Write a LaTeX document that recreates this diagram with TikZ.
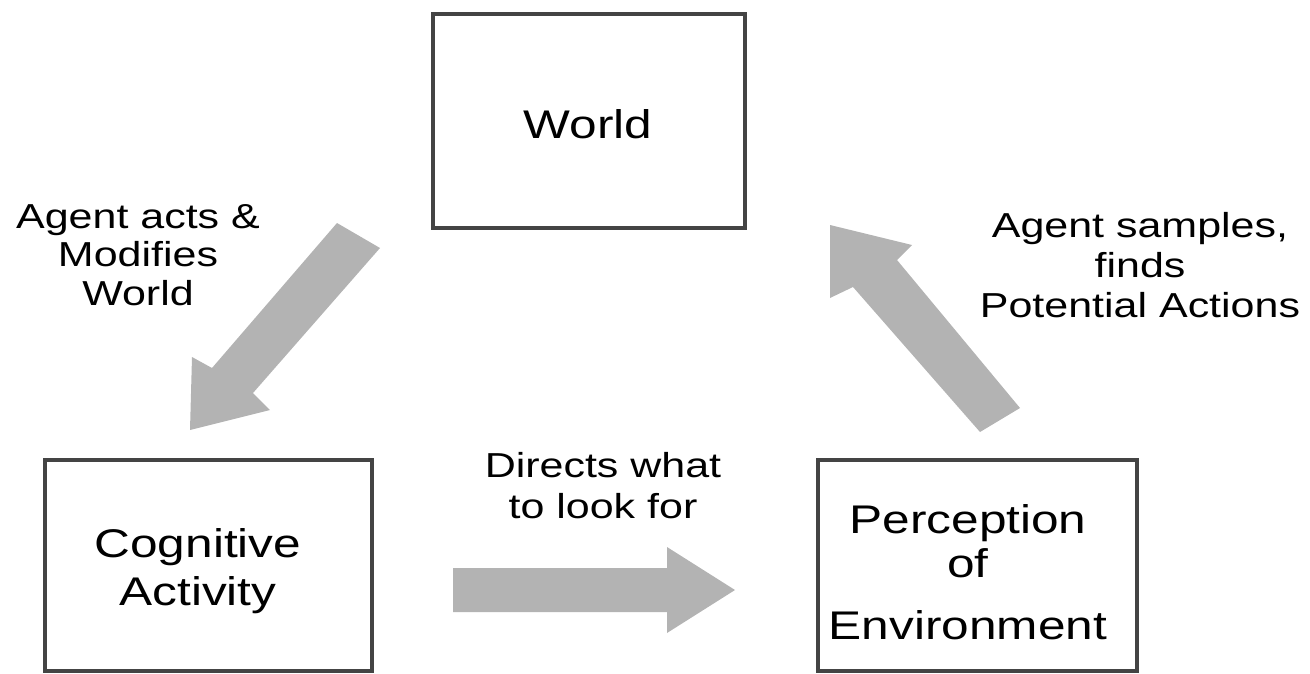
\documentclass[tikz,border=0pt]{standalone}
\usepackage{fontspec}
\setmainfont{Liberation Sans}
\definecolor{boxline}{HTML}{444444}
\definecolor{arrowgray}{HTML}{B3B3B3}
\newcommand{\stack}[1]{\begin{tabular}[t]{@{}c@{}}#1\end{tabular}}
\begin{document}
\begin{tikzpicture}[x=0.75pt,y=-0.75pt,
  box/.style={draw=boxline, line width=3pt, inner sep=0pt},
  boxtext/.style={font=\fontsize{30}{36}\selectfont, xscale=1.24, anchor=base, inner sep=0pt},
  lbl/.style={font=\fontsize{26}{30}\selectfont, xscale=1.24, anchor=base, inner sep=0pt},
  blockarrow/.style={fill=arrowgray, draw=none}]
\useasboundingbox (0,0) rectangle (1310,674);

% boxes
\node[box, minimum width=234pt, minimum height=160.5pt] (world) at (589,121) {};
\node[box, minimum width=245.25pt, minimum height=158.25pt] (cog) at (208.5,565.5) {};
\node[box, minimum width=239.25pt, minimum height=158.25pt] (perc) at (977.5,565.5) {};

% box texts
\node[boxtext] (worldtxt) at (588,138) {World};
\node[boxtext] (cogtxt) at (198,557) {\stack{Cognitive\\Activity}};
\node[boxtext, font=\fontsize{30}{33}\selectfont] (perctxt) at (968,533)
  {\stack{Perception\\of\\[14pt]Environment}};

% labels
\node[lbl, font=\fontsize{26}{29}\selectfont] (acts) at (138,228) {\stack{Agent acts \&\\Modifies\\World}};
\node[lbl] (samples) at (1140,237) {\stack{Agent samples,\\finds\\Potential Actions}};
\node[lbl, font=\fontsize{26}{31}\selectfont] (directs) at (603,477) {\stack{Directs what\\to look for}};

% block arrows
\fill[blockarrow] (337,223) -- (380,248) -- (253,393) -- (270,410) -- (190,430)
  -- (192,357) -- (212,368) -- cycle;
\fill[blockarrow] (1020,408) -- (980,432) -- (853,287) -- (830,298) -- (830,225)
  -- (912,245) -- (897,260) -- cycle;
\fill[blockarrow] (453,568) -- (667,568) -- (667,547) -- (735,590) -- (667,633)
  -- (667,612) -- (453,612) -- cycle;
\end{tikzpicture}
\end{document}
